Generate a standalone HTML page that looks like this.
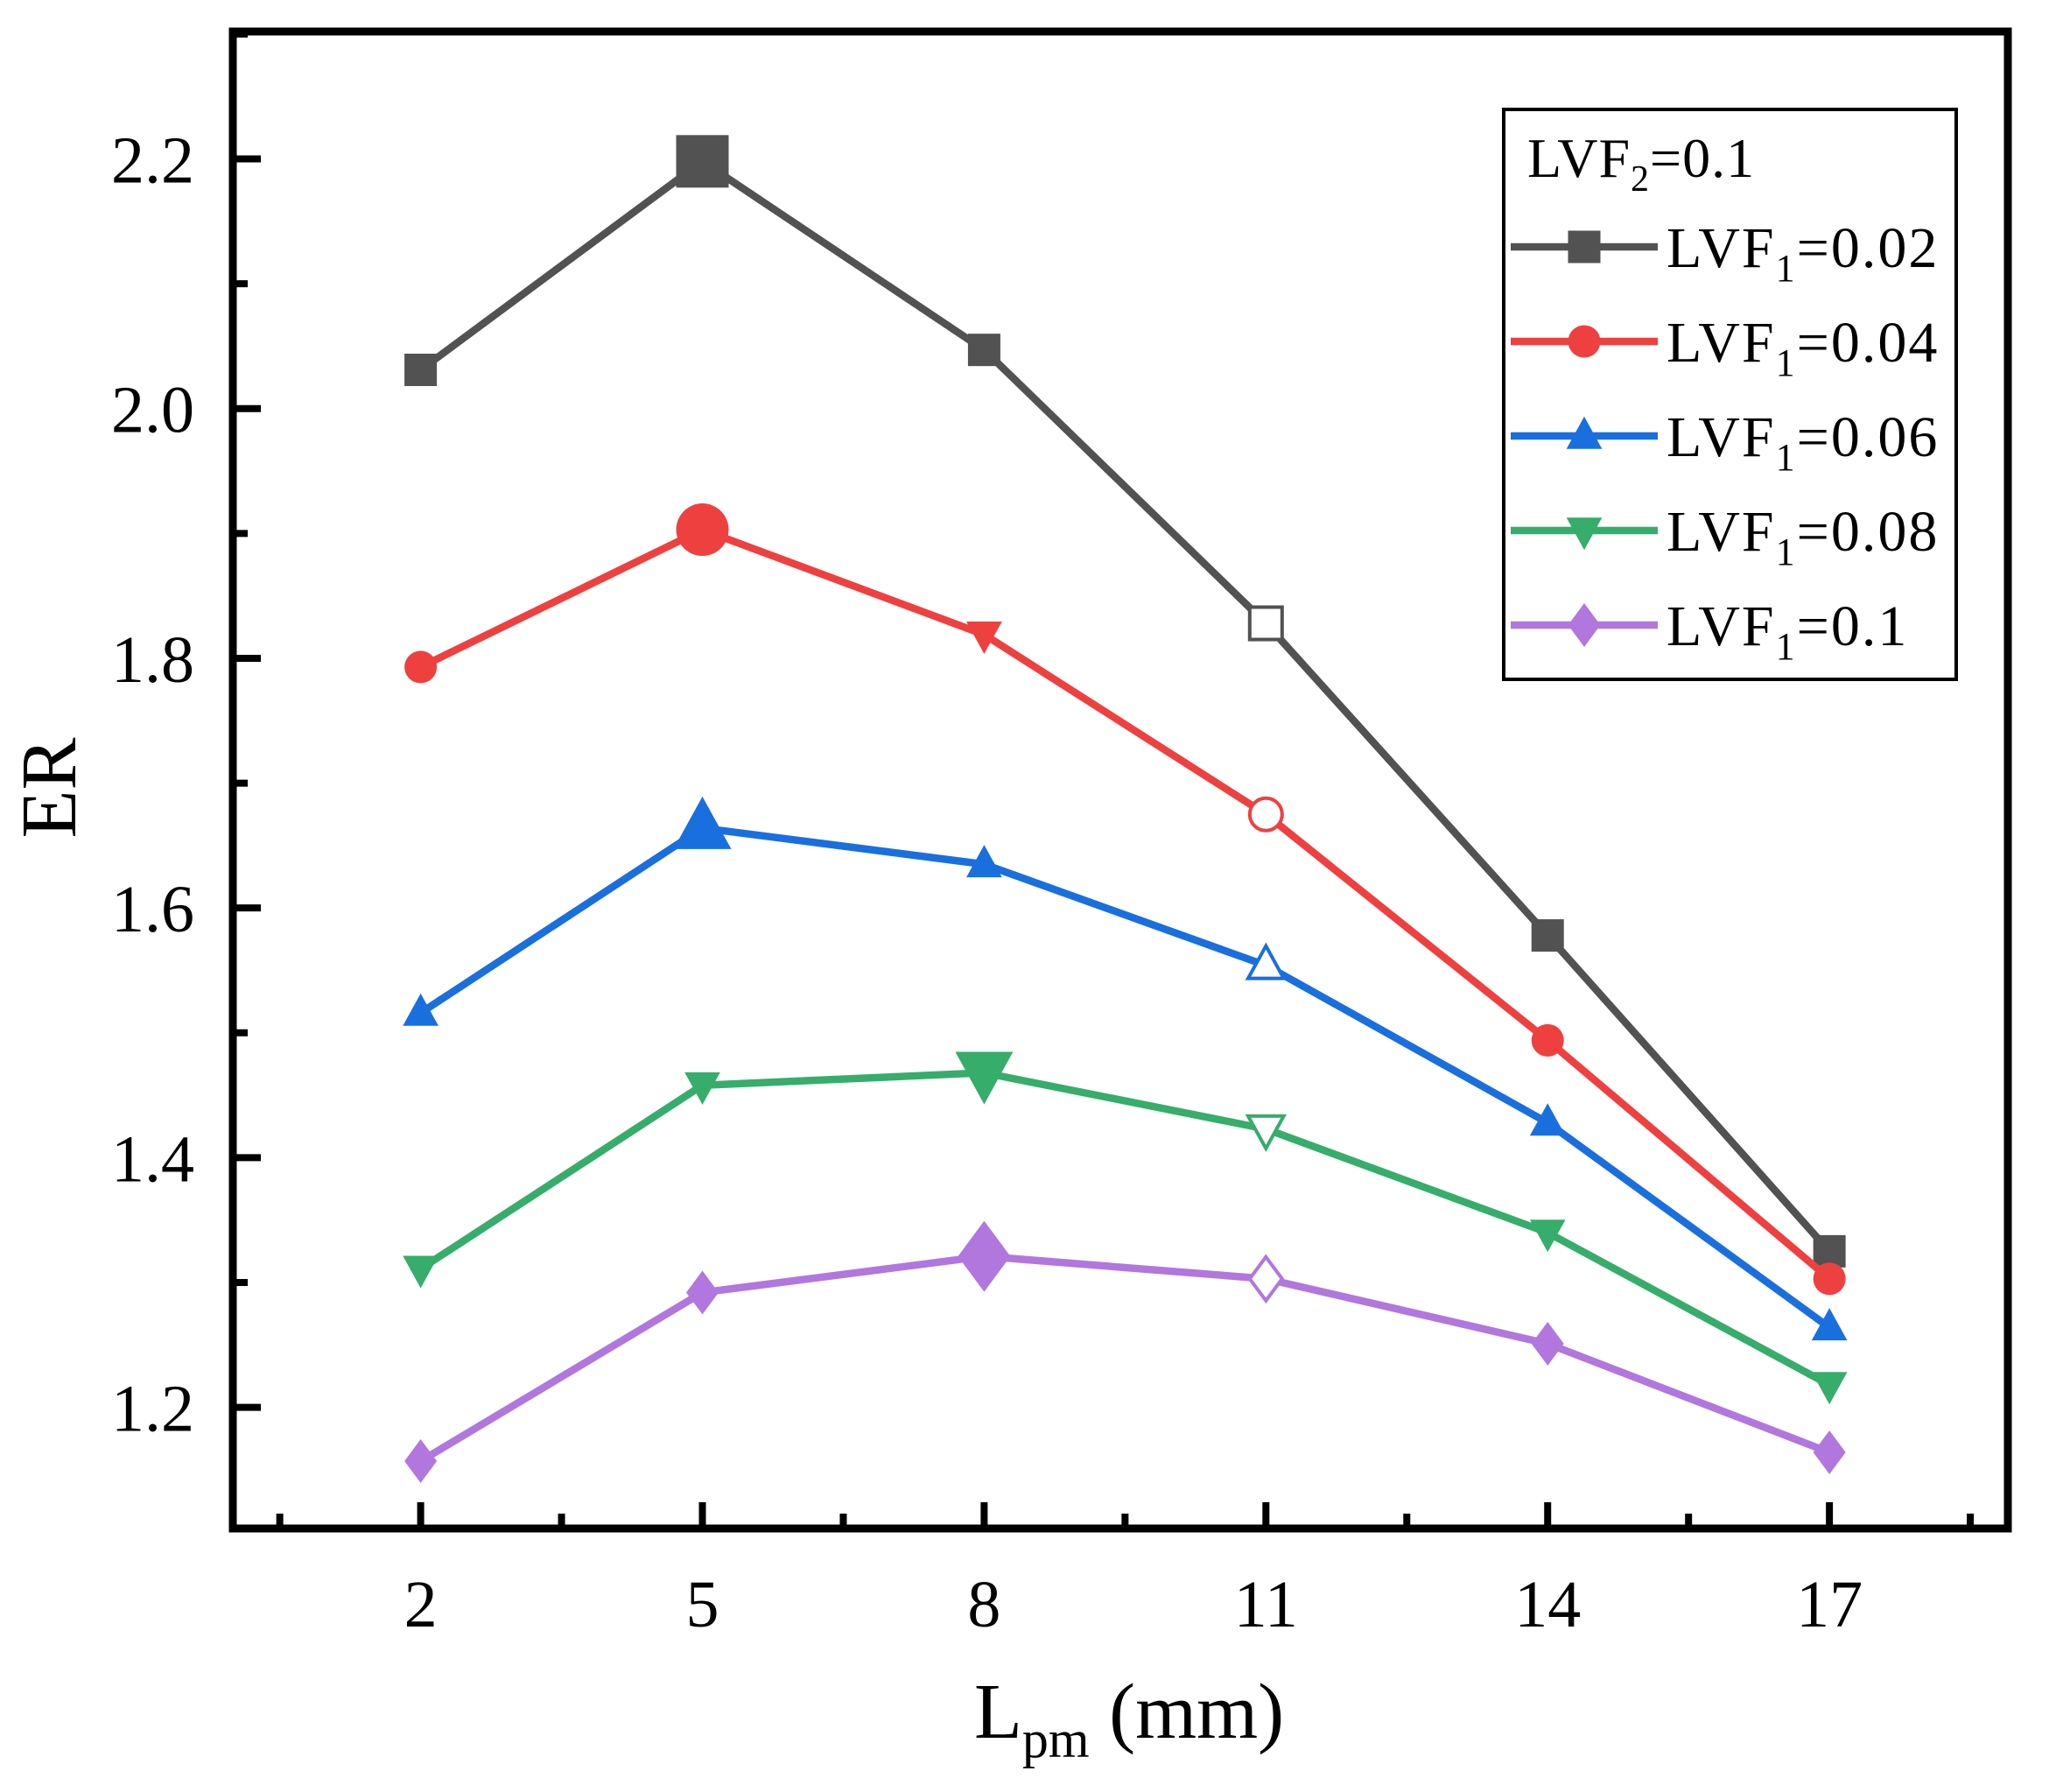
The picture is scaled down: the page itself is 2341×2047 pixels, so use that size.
<!DOCTYPE html>
<html><head><meta charset="utf-8"><style>
html,body{margin:0;padding:0;background:#fff}
svg{display:block;font-family:"Liberation Serif",serif}
</style></head><body>
<svg id="chart" width="2341" height="2047" viewBox="0 0 2341 2047" xmlns="http://www.w3.org/2000/svg">
<g id="axes"></g>
<g id="series"></g>
<g id="legend"></g>
</svg>
<script>
const categories = [2, 5, 8, 11, 14, 17];
const yTicks = [1.2, 1.4, 1.6, 1.8, 2.0, 2.2];
const yTickLabels = ["1.2", "1.4", "1.6", "1.8", "2.0", "2.2"];
const s002 = [2.031, 2.198, 2.047, 1.828, 1.578, 1.325];
const s004 = [1.793, 1.903, 1.819, 1.675, 1.494, 1.303];
const s006 = [1.516, 1.664, 1.635, 1.554, 1.428, 1.264];
const s008 = [1.311, 1.458, 1.468, 1.423, 1.340, 1.218];
const s010 = [1.157, 1.292, 1.321, 1.303, 1.251, 1.164];
const seriesNames = ["LVF1=0.02", "LVF1=0.04", "LVF1=0.06", "LVF1=0.08", "LVF1=0.1"];

const NS = "http://www.w3.org/2000/svg";
const L = 266, R = 2294, T = 36, B = 1746;
const X0 = 0, X1 = 18.9, Y0 = 1.103, Y1 = 2.302;
const xs = v => L + (v - X0) / (X1 - X0) * (R - L);
const ys = v => B - (v - Y0) / (Y1 - Y0) * (B - T);
function mk(tag, attrs, parent) {
  const e = document.createElementNS(NS, tag);
  for (const k in attrs) e.setAttribute(k, attrs[k]);
  parent.appendChild(e);
  return e;
}
const axes = document.getElementById('axes');
const frame = mk('rect', {x: L, y: T, width: R - L, height: B - T, fill: 'none', stroke: '#000', 'stroke-width': 9}, axes);



categories.forEach((c, i) => {
  const x = xs(c);
  const t = mk('line', {x1: x, x2: x, y1: B, y2: B - 30, stroke: '#000', 'stroke-width': 8}, axes);
  
  
  const lb = mk('text', {x: x, y: 1858, 'font-size': 76, 'text-anchor': 'middle'}, axes);
  lb.textContent = String(c);
  
  
});
for (let m = 0.5; m < X1; m += 3) {
  const x = xs(m);
  const t = mk('line', {x1: x, x2: x, y1: B, y2: B - 17, stroke: '#000', 'stroke-width': 8}, axes);
  
  
}
yTicks.forEach((v, i) => {
  const y = ys(v);
  const t = mk('line', {x1: L, x2: L + 32, y1: y, y2: y, stroke: '#000', 'stroke-width': 8}, axes);
  
  
  const lb = mk('text', {x: 222, y: y + 27, 'font-size': 76, 'text-anchor': 'end'}, axes);
  lb.textContent = yTickLabels[i];
  
  
  const ym = ys(v + 0.1);
  if (v + 0.1 < Y1) {
    const mt = mk('line', {x1: L, x2: L + 17, y1: ym, y2: ym, stroke: '#000', 'stroke-width': 8}, axes);
    
    
  }
});
const yt = mk('text', {x: 0, y: 0, 'font-size': 90, 'text-anchor': 'middle', transform: 'translate(86,900) rotate(-90)'}, axes);
yt.textContent = 'ER';


const xt = mk('text', {x: 1290, y: 1985, 'font-size': 90, 'text-anchor': 'middle'}, axes);
xt.innerHTML = 'L<tspan font-size="60" dy="22">pm</tspan><tspan dy="-22"> (mm)</tspan>';



const colors = ['#525252', '#ef4040', '#1a6fdf', '#37ad6b', '#b177de'];
const shapes = ['square', 'circle', 'up', 'down', 'diamond'];
const bigIdx = [1, 1, 1, 2, 2];
const allSeries = [s002, s004, s006, s008, s010];

function marker(parent, shape, cx, cy, size, color, hollow) {
  const h = size / 2;
  const st = hollow ? {fill: '#fff', stroke: color, 'stroke-width': 4} : {fill: color};
  let e;
  if (shape === 'square') e = mk('rect', Object.assign({x: cx - h, y: cy - h, width: size, height: size}, st), parent);
  else if (shape === 'circle') e = mk('circle', Object.assign({cx: cx, cy: cy, r: h}, st), parent);
  else if (shape === 'up') e = mk('polygon', Object.assign({points: `${cx},${cy - h * 1.2} ${cx + h * 1.1},${cy + h * 0.8} ${cx - h * 1.1},${cy + h * 0.8}`}, st), parent);
  else if (shape === 'down') e = mk('polygon', Object.assign({points: `${cx},${cy + h * 1.2} ${cx + h * 1.1},${cy - h * 0.8} ${cx - h * 1.1},${cy - h * 0.8}`}, st), parent);
  else e = mk('polygon', Object.assign({points: `${cx},${cy - h * 1.35} ${cx + h},${cy} ${cx},${cy + h * 1.35} ${cx - h},${cy}`}, st), parent);
  return e;
}

const sg = document.getElementById('series');
allSeries.forEach((vals, si) => {
  const g = mk('g', {}, sg);
  
  
  const pts = vals.map((v, i) => `${xs(categories[i])},${ys(v)}`).join(' ');
  const pl = mk('polyline', {points: pts, fill: 'none', stroke: colors[si], 'stroke-width': 8.5, 'stroke-linejoin': 'round'}, g);
  
  
  vals.forEach((v, i) => {
    let shape = shapes[si];
    if (si === 1 && i === 2) shape = 'down';
    const size = i === bigIdx[si] ? 60 : 37;
    const m = marker(g, shape, xs(categories[i]), ys(v), size, colors[si], i === 3);
    
    
  });
});

const lg = document.getElementById('legend');
const lb = mk('rect', {x: 1718, y: 125, width: 517, height: 651, fill: '#fff', stroke: '#000', 'stroke-width': 4}, lg);


const lt = mk('text', {x: 1745, y: 202, 'font-size': 64, 'letter-spacing': 1}, lg);
lt.innerHTML = 'LVF<tspan font-size="42" dy="16">2</tspan><tspan dy="-16">=0.1</tspan>';


seriesNames.forEach((n, si) => {
  const y = 282 + si * 108;
  const g = mk('g', {}, lg);
  
  
  mk('line', {x1: 1726, x2: 1894, y1: y, y2: y, stroke: colors[si], 'stroke-width': 8.5}, g);
  marker(g, shapes[si], 1810, y, 37, colors[si], false);
  const t = mk('text', {x: 1904, y: y + 23, 'font-size': 66, 'letter-spacing': 2}, g);
  t.innerHTML = 'LVF<tspan font-size="44" dy="16">1</tspan><tspan dy="-16">' + n.slice(4) + '</tspan>';
});
</script>
</body></html>
